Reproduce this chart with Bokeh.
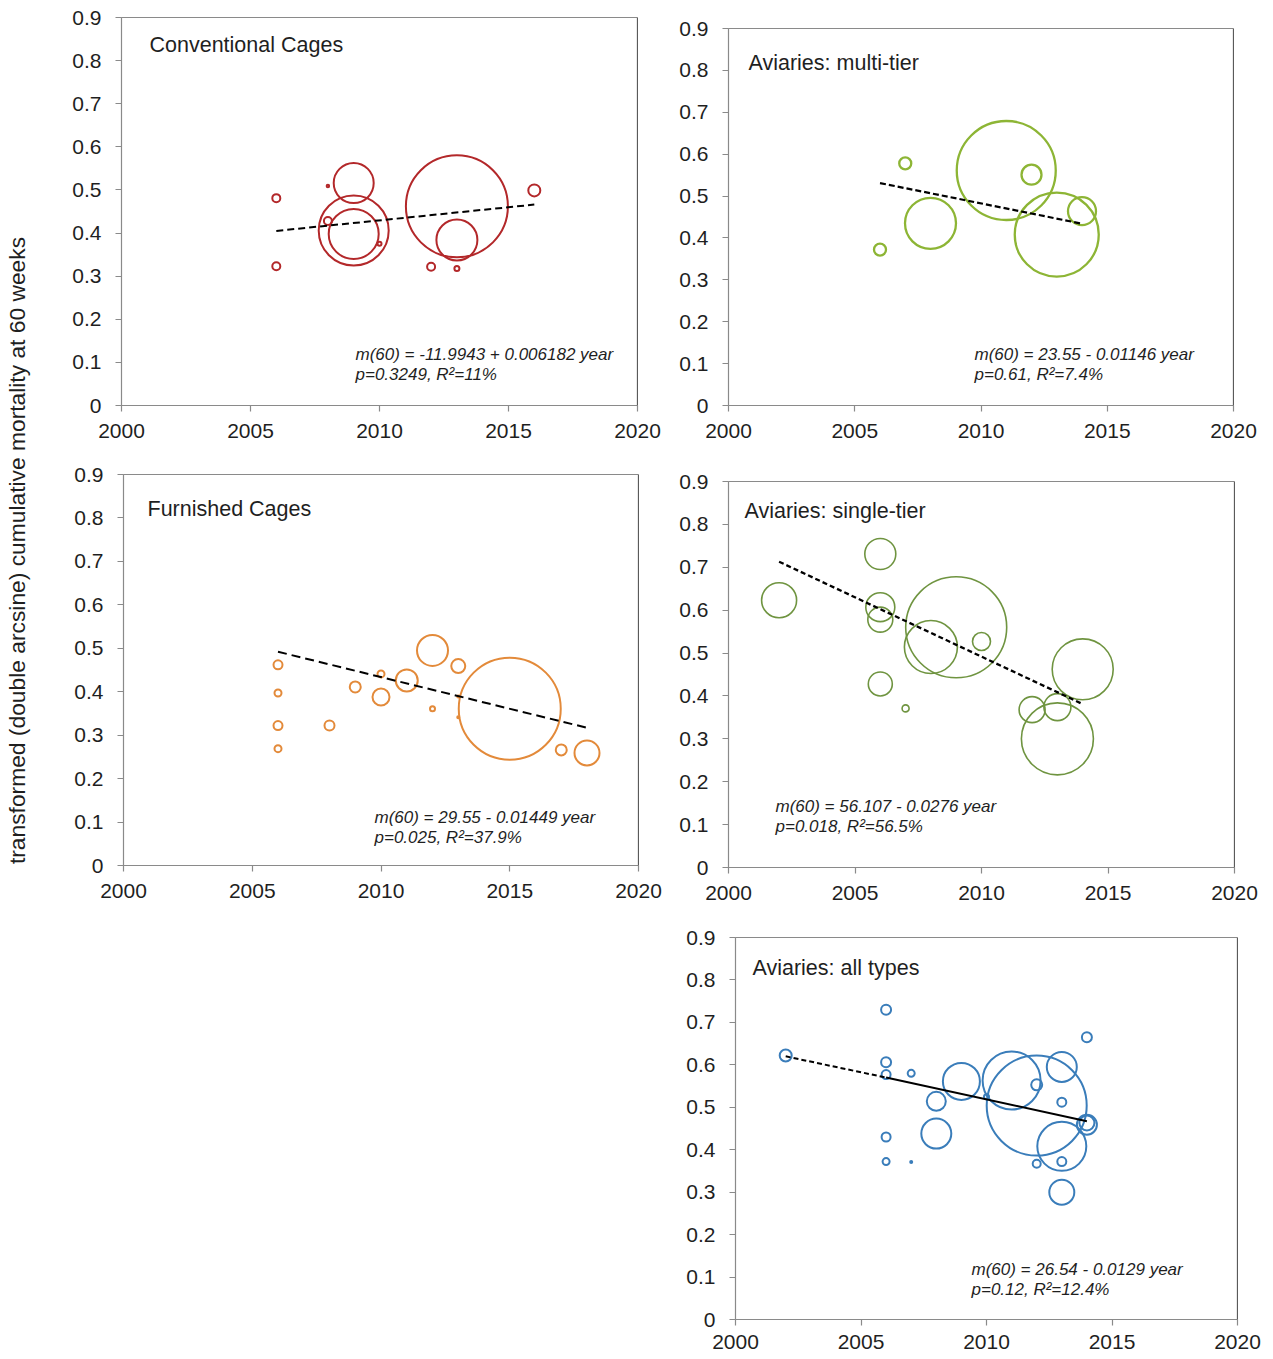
import math
from bokeh.plotting import figure
from bokeh.models import Range1d, FixedTicker, Label, Span, Spacer
from bokeh.layouts import row, column
from bokeh.embed import file_html
from bokeh.resources import INLINE

# ---------------- data ----------------
x_ticks = [2000, 2005, 2010, 2015, 2020]
y_ticks = [0, 0.1, 0.2, 0.3, 0.4, 0.5, 0.6, 0.7, 0.8, 0.9]
y_tick_labels = ["0", "0.1", "0.2", "0.3", "0.4", "0.5", "0.6", "0.7", "0.8", "0.9"]
y_label = "transformed (double arcsine) cumulative mortality at 60 weeks"

# Conventional cages
conv_year = [2006, 2006, 2008, 2008, 2009, 2009, 2009, 2010, 2012, 2013, 2013, 2013, 2016]
conv_val = [0.481, 0.323, 0.509, 0.428, 0.516, 0.406, 0.398, 0.375, 0.322, 0.462, 0.384, 0.318, 0.499]
conv_w = [8, 8, 2.5, 8, 40, 70, 50, 4, 8, 102, 41, 5, 12]
conv_trend_year = [2006, 2016]
conv_trend_val = [0.405, 0.466]
conv_eq = ["m(60) = -11.9943 + 0.006182 year", "p=0.3249, R\u00b2=11%"]

# Aviaries: multi-tier
multi_year = [2006, 2007, 2008, 2011, 2012, 2013, 2014]
multi_val = [0.372, 0.578, 0.435, 0.561, 0.551, 0.408, 0.464]
multi_w = [12, 12, 51, 99, 20, 84, 28]
multi_trend_year = [2006, 2014]
multi_trend_val = [0.531, 0.434]
multi_eq = ["m(60) = 23.55 - 0.01146 year", "p=0.61, R\u00b2=7.4%"]

# Furnished cages
furn_year = [2006, 2006, 2006, 2006, 2008, 2009, 2010, 2010, 2011, 2012, 2012, 2013, 2013, 2013, 2015, 2017, 2018]
furn_val = [0.462, 0.397, 0.322, 0.269, 0.322, 0.411, 0.441, 0.388, 0.426, 0.495, 0.361, 0.459, 0.389, 0.341, 0.361, 0.266, 0.259]
furn_w = [9, 7, 9, 7, 10, 11, 7, 17, 22, 31, 5, 14, 2, 2, 102, 11, 25]
furn_trend_year = [2006, 2018]
furn_trend_val = [0.492, 0.317]
furn_eq = ["m(60) =  29.55 - 0.01449 year", "p=0.025, R\u00b2=37.9%"]

# Aviaries: single-tier
single_year = [2002, 2006, 2006, 2006, 2006, 2007, 2008, 2009, 2010, 2012, 2013, 2013, 2014]
single_val = [0.623, 0.731, 0.607, 0.578, 0.428, 0.371, 0.514, 0.560, 0.527, 0.368, 0.374, 0.300, 0.462]
single_w = [35, 31, 29, 25, 24, 7, 53, 101, 18, 26, 27, 72, 61]
single_trend_year = [2002, 2014]
single_trend_val = [0.713, 0.381]
single_eq = ["m(60) = 56.107 - 0.0276 year", "p=0.018, R\u00b2=56.5%"]

# Aviaries: all types
all_year = [2002, 2006, 2006, 2006, 2006, 2006, 2007, 2007, 2008, 2008, 2009, 2010, 2011, 2012,
            2012, 2012, 2013, 2013, 2013, 2013, 2013, 2014, 2014, 2014]
all_val = [0.622, 0.730, 0.606, 0.577, 0.430, 0.372, 0.580, 0.371, 0.514, 0.438, 0.561, 0.525, 0.563, 0.553,
           0.504, 0.367, 0.595, 0.512, 0.408, 0.372, 0.300, 0.665, 0.463, 0.459]
all_w = [12, 10, 10, 9, 9, 7, 7, 2, 19, 30, 37, 5, 58, 11, 100, 8, 30, 9, 49, 9, 25, 10, 15, 20]
all_trend_ext_year = [2002, 2006]
all_trend_ext_val = [0.620, 0.570]
all_trend_year = [2006, 2014]
all_trend_val = [0.570, 0.467]
all_eq = ["m(60) = 26.54 - 0.0129 year", "p=0.12, R\u00b2=12.4%"]

FONT = "Liberation Sans"
TXT = "#1f1f1f"
AX = "#8a8a8a"


def panel(title, years, vals, w, color, ring_w, ty, tv, dash, dash_w, eq,
          fw, fh, bl, br, bt, bb, title_dx, title_dy, eq_dx, eq_dy, x_standoff=12):
    p = figure(frame_width=fw, frame_height=fh,
               min_border_left=bl, min_border_right=br, min_border_top=bt, min_border_bottom=bb,
               x_range=Range1d(2000, 2020), y_range=Range1d(0, 0.9),
               output_backend="svg", toolbar_location=None, tools="")
    p.xgrid.visible = False
    p.ygrid.visible = False
    p.outline_line_color = AX
    p.outline_line_width = 1
    p.background_fill_color = "white"
    p.border_fill_color = "white"
    p.xaxis.ticker = FixedTicker(ticks=x_ticks)
    p.yaxis.ticker = FixedTicker(ticks=y_ticks)
    p.yaxis.major_label_overrides = {t: s for t, s in zip(y_ticks, y_tick_labels)}
    for ax in (p.xaxis[0], p.yaxis[0]):
        ax.axis_line_color = AX
        ax.axis_line_width = 1.2
        ax.major_tick_line_color = AX
        ax.major_tick_line_width = 1.2
        ax.major_tick_out = 6
        ax.major_tick_in = 0
        ax.minor_tick_line_color = None
        ax.major_label_text_font = FONT
        ax.major_label_text_font_size = "21px"
        ax.major_label_text_color = TXT
    p.yaxis.major_label_standoff = 14
    p.xaxis.major_label_standoff = x_standoff
    p.add_layout(Span(location=2020, dimension="height", line_color="#2a2a2a", line_width=1.2))

    p.scatter(years, vals, size=w, marker="circle", fill_color=None,
              line_color=color, line_width=ring_w)
    p.line(ty, tv, line_color="black", line_width=dash_w, line_dash=dash)

    p.add_layout(Label(x=title_dx, y=fh - title_dy, x_units="screen", y_units="screen",
                       text=title, text_font=FONT, text_font_size="21.5px", text_color=TXT,
                       text_baseline="middle", text_align="left"))
    for i, line in enumerate(eq):
        p.add_layout(Label(x=eq_dx, y=eq_dy - 20 * i, x_units="screen", y_units="screen",
                           text=line, text_font=FONT, text_font_size="17px", text_font_style="italic",
                           text_color=TXT, text_baseline="middle", text_align="left"))
    return p


# all figures in a row share the same top border; spacers give the vertical offsets
pA = panel("Conventional Cages", conv_year, conv_val, conv_w, "#B3282A", 2.0,
           conv_trend_year, conv_trend_val, "7 4", 2.0, conv_eq,
           516, 388, 73, 25, 17, 45, 28, 27, 234, 51)
pB = panel("Aviaries: multi-tier", multi_year, multi_val, multi_w, "#8DB535", 2.3,
           multi_trend_year, multi_trend_val, "6 3", 2.2, multi_eq,
           505, 377, 66, 30, 17, 45, 20, 34, 246, 51)
pC = panel("Furnished Cages", furn_year, furn_val, furn_w, "#E38A3A", 2.0,
           furn_trend_year, furn_trend_val, "9 5", 2.0, furn_eq,
           515, 391, 75, 24, 24, 45, 24, 34, 251, 48)
pD = panel("Aviaries: single-tier", single_year, single_val, single_w, "#6F9440", 1.6,
           single_trend_year, single_trend_val, "5 3", 2.3, single_eq,
           506, 386, 66, 29, 24, 43, 16, 29, 47, 61)
pE = panel("Aviaries: all types", all_year, all_val, all_w, "#3A7DBA", 2.0,
           all_trend_year, all_trend_val, "solid", 2.0, all_eq,
           502, 382, 73, 26, 27, 40, 17, 30, 236, 50, x_standoff=9)
pE.line(all_trend_ext_year, all_trend_ext_val, line_color="black", line_width=2.0, line_dash="5 3")

TOTAL_H = 450 + 460 + 27 + 382 + 40

# shared y-axis title
lab = figure(width=48, height=TOTAL_H, min_border=0, x_range=Range1d(0, 1), y_range=Range1d(0, 1),
             x_axis_location=None, y_axis_location=None, output_backend="svg",
             toolbar_location=None, tools="")
lab.outline_line_color = None
lab.xgrid.visible = False
lab.ygrid.visible = False
lab.add_layout(Label(x=16, y=TOTAL_H - 550, x_units="screen", y_units="screen", angle=math.pi / 2,
                     text=y_label, text_font=FONT, text_font_size="22.8px", text_color=TXT,
                     text_align="center", text_baseline="middle"))

layout = row(
    lab,
    column(
        row(pA, column(Spacer(width=601, height=11), pB)),
        row(pC, column(Spacer(width=601, height=7), pD)),
        row(Spacer(width=614, height=10), pE),
    ),
)

open("out.html", "w").write(file_html(layout, INLINE))
